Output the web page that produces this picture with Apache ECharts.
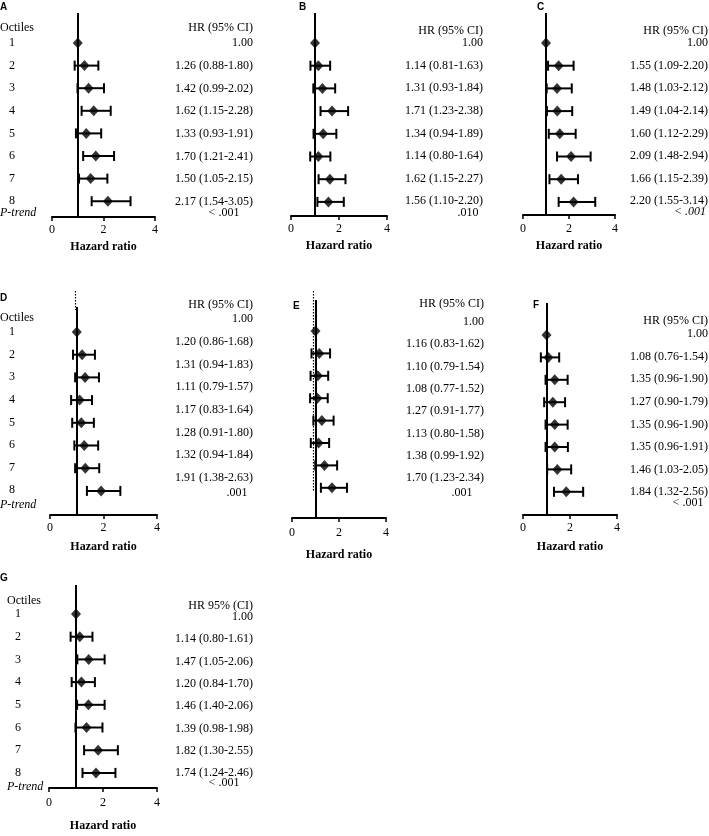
<!DOCTYPE html>
<html><head><meta charset="utf-8">
<script src="https://cdn.jsdelivr.net/npm/echarts@6/dist/echarts.min.js"></script>
<style>html,body{margin:0;padding:0;background:#fff}#c{width:709px;height:836px}</style>
</head><body><div id="c"></div>
<script>
// ---------- DATA ----------
const octiles = ['1','2','3','4','5','6','7','8'];
const xTicks = [0, 2, 4];

const hrA = [1.00,1.26,1.42,1.62,1.33,1.70,1.50,2.17];
const loA = [null,0.88,0.99,1.15,0.93,1.21,1.05,1.54];
const hiA = [null,1.80,2.02,2.28,1.91,2.41,2.15,3.05];
const txtA = ['1.00','1.26 (0.88-1.80)','1.42 (0.99-2.02)','1.62 (1.15-2.28)','1.33 (0.93-1.91)','1.70 (1.21-2.41)','1.50 (1.05-2.15)','2.17 (1.54-3.05)'];
const pA = '< .001';

const hrB = [1.00,1.14,1.31,1.71,1.34,1.14,1.62,1.56];
const loB = [null,0.81,0.93,1.23,0.94,0.80,1.15,1.10];
const hiB = [null,1.63,1.84,2.38,1.89,1.64,2.27,2.20];
const txtB = ['1.00','1.14 (0.81-1.63)','1.31 (0.93-1.84)','1.71 (1.23-2.38)','1.34 (0.94-1.89)','1.14 (0.80-1.64)','1.62 (1.15-2.27)','1.56 (1.10-2.20)'];
const pB = '.010';

const hrC = [1.00,1.55,1.48,1.49,1.60,2.09,1.66,2.20];
const loC = [null,1.09,1.03,1.04,1.12,1.48,1.15,1.55];
const hiC = [null,2.20,2.12,2.14,2.29,2.94,2.39,3.14];
const txtC = ['1.00','1.55 (1.09-2.20)','1.48 (1.03-2.12)','1.49 (1.04-2.14)','1.60 (1.12-2.29)','2.09 (1.48-2.94)','1.66 (1.15-2.39)','2.20 (1.55-3.14)'];
const pC = '< .001';

const hrD = [1.00,1.20,1.31,1.11,1.17,1.28,1.32,1.91];
const loD = [null,0.86,0.94,0.79,0.83,0.91,0.94,1.38];
const hiD = [null,1.68,1.83,1.57,1.64,1.80,1.84,2.63];
const txtD = ['1.00','1.20 (0.86-1.68)','1.31 (0.94-1.83)','1.11 (0.79-1.57)','1.17 (0.83-1.64)','1.28 (0.91-1.80)','1.32 (0.94-1.84)','1.91 (1.38-2.63)'];
const pD = '.001';

const hrE = [1.00,1.16,1.10,1.08,1.27,1.13,1.38,1.70];
const loE = [null,0.83,0.79,0.77,0.91,0.80,0.99,1.23];
const hiE = [null,1.62,1.54,1.52,1.77,1.58,1.92,2.34];
const txtE = ['1.00','1.16 (0.83-1.62)','1.10 (0.79-1.54)','1.08 (0.77-1.52)','1.27 (0.91-1.77)','1.13 (0.80-1.58)','1.38 (0.99-1.92)','1.70 (1.23-2.34)'];
const pE = '.001';

const hrF = [1.00,1.08,1.35,1.27,1.35,1.35,1.46,1.84];
const loF = [null,0.76,0.96,0.90,0.96,0.96,1.03,1.32];
const hiF = [null,1.54,1.90,1.79,1.90,1.91,2.05,2.56];
const txtF = ['1.00','1.08 (0.76-1.54)','1.35 (0.96-1.90)','1.27 (0.90-1.79)','1.35 (0.96-1.90)','1.35 (0.96-1.91)','1.46 (1.03-2.05)','1.84 (1.32-2.56)'];
const pF = '< .001';

const hrG = [1.00,1.14,1.47,1.20,1.46,1.39,1.82,1.74];
const loG = [null,0.80,1.05,0.84,1.04,0.98,1.30,1.24];
const hiG = [null,1.61,2.06,1.70,2.06,1.98,2.55,2.46];
const txtG = ['1.00','1.14 (0.80-1.61)','1.47 (1.05-2.06)','1.20 (0.84-1.70)','1.46 (1.40-2.06)','1.39 (0.98-1.98)','1.82 (1.30-2.55)','1.74 (1.24-2.46)'];
const pG = '< .001';

const refHR = 1;

const panels = [
  {id:'A', hr:hrA, lo:loA, hi:hiA, txt:txtA, p:pA, header:'HR (95% CI)'},
  {id:'B', hr:hrB, lo:loB, hi:hiB, txt:txtB, p:pB, header:'HR (95% CI)'},
  {id:'C', hr:hrC, lo:loC, hi:hiC, txt:txtC, p:pC, header:'HR (95% CI)'},
  {id:'D', hr:hrD, lo:loD, hi:hiD, txt:txtD, p:pD, header:'HR (95% CI)'},
  {id:'E', hr:hrE, lo:loE, hi:hiE, txt:txtE, p:pE, header:'HR (95% CI)'},
  {id:'F', hr:hrF, lo:loF, hi:hiF, txt:txtF, p:pF, header:'HR (95% CI)'},
  {id:'G', hr:hrG, lo:loG, hi:hiG, txt:txtG, p:pG, header:'HR 95% (CI)'}
];

// ---------- LAYOUT (pixels) ----------
const L = {
  A:{x0:52,x4:155,solidTop:13,axisY:217,row1:43,sp:22.6,letter:[0,7.5],tr:253,hY:28,t1:43,tsp:22.7,pX:224,pY:213,pIt:false,lm:7,ng:24,
     oct:{numX:12,labX:0,octY:28,row1:43,sp:22.6,pY:213}},
  B:{x0:291,x4:387,solidTop:13,axisY:216,row1:43,sp:22.7,letter:[299,7.5],tr:483,hY:31,t1:43,tsp:22.6,pX:468,pY:213,pIt:false,lm:7,ng:24},
  C:{x0:523,x4:615,solidTop:13,axisY:215,row1:43,sp:22.7,letter:[537,7.5],tr:708,hY:31,t1:43,tsp:22.6,pX:690,pY:212,pIt:true,lm:8,ng:25},
  D:{x0:50,x4:157,solidTop:307,dotTop:291,dotBot:310,dotX:0.96,axisY:515,row1:332,sp:22.7,letter:[0,298],tr:253,hY:305,t1:319,tsp:22.7,pX:237,pY:493,pIt:false,lm:7,ng:26,
     oct:{numX:12,labX:0,octY:318,row1:332,sp:22.6,pY:505}},
  E:{x0:292,x4:386,solidTop:300,dotTop:291,dotBot:492,dotX:0.89,axisY:518,row1:331,sp:22.4,letter:[293,306],tr:484,hY:304,t1:322,tsp:22.3,pX:462,pY:493,pIt:false,lm:9,ng:31},
  F:{x0:523,x4:617,solidTop:303,axisY:515,row1:335,sp:22.4,letter:[533,305],tr:708,hY:321,t1:334,tsp:22.6,pX:688,pY:503,pIt:false,lm:7,ng:26},
  G:{x0:49,x4:157,solidTop:585,axisY:788,row1:614,sp:22.7,letter:[0,578],tr:253,hY:606,t1:617,tsp:22.3,pX:224,pY:783,pIt:false,lm:9,ng:32,
     oct:{numX:18,labX:7,octY:601,row1:614,sp:22.7,pY:787}}
};

const SERIF = '"Liberation Serif", "Times New Roman", serif';
const f12 = '12px ' + SERIF;

const grids = [], xAxes = [], yAxes = [], series = [], graphics = [];

function txt(x, y, s, align, font) {
  graphics.push({type:'text', x:x, y:y, silent:true,
    style:{text:s, fill:'#000', font:font || f12, align:align || 'left', verticalAlign:'middle'}});
}

panels.forEach((P, k) => {
  const g = L[P.id];
  const top = Math.min(g.solidTop, g.dotTop == null ? g.solidTop : g.dotTop);
  grids.push({left:g.x0, top:top, width:g.x4 - g.x0, height:g.axisY - top, containLabel:false});
  const toVal = y => (y - g.row1) / g.sp;
  const yMin = toVal(top), yMax = toVal(g.axisY);
  xAxes.push({
    gridIndex:k, type:'value', min:xTicks[0], max:xTicks[xTicks.length-1], interval:xTicks[1]-xTicks[0],
    axisLine:{onZero:false, lineStyle:{color:'#000', width:2}},
    axisTick:{show:true, inside:false, length:4, lineStyle:{color:'#000', width:1.5}},
    splitLine:{show:false},
    axisLabel:{color:'#000', fontFamily:SERIF, fontSize:12, margin:g.lm},
    name:'Hazard ratio', nameLocation:'middle', nameGap:g.ng,
    nameTextStyle:{fontFamily:SERIF, fontWeight:'bold', fontSize:12, color:'#000'}
  });
  yAxes.push({gridIndex:k, type:'value', inverse:true, min:yMin, max:yMax, show:false});

  const mlData = [[{coord:[refHR, toVal(g.solidTop)], lineStyle:{type:'solid', width:2, color:'#000'}},
                   {coord:[refHR, yMax]}]];
  if (g.dotTop != null) {
    mlData.push([{coord:[g.dotX, toVal(g.dotTop)], lineStyle:{type:[1.5,1.5], width:1.2, color:'#000'}},
                 {coord:[g.dotX, toVal(g.dotBot)]}]);
  }

  // error bars
  const ebData = [];
  P.lo.forEach((lo, i) => { if (lo != null) ebData.push([lo, P.hi[i], i]); });
  series.push({
    type:'custom', xAxisIndex:k, yAxisIndex:k, clip:false, z:3, silent:true,
    data:ebData,
    renderItem:(params, api) => {
      const a = api.coord([api.value(0), api.value(2)]);
      const b = api.coord([api.value(1), api.value(2)]);
      const h = 5;
      const st = {stroke:'#000', lineWidth:2};
      return {type:'group', children:[
        {type:'line', shape:{x1:a[0], y1:a[1], x2:b[0], y2:b[1]}, style:st},
        {type:'line', shape:{x1:a[0], y1:a[1]-h, x2:a[0], y2:a[1]+h}, style:st},
        {type:'line', shape:{x1:b[0], y1:b[1]-h, x2:b[0], y2:b[1]+h}, style:st}
      ]};
    },
    markLine:{silent:true, symbol:['none','none'], label:{show:false}, data:mlData}
  });
  // diamonds
  series.push({
    type:'scatter', xAxisIndex:k, yAxisIndex:k, z:4, silent:true,
    symbol:'diamond', symbolSize:[10,11], itemStyle:{color:'#000'},
    data:P.hr.map((v, i) => [v, i])
  });

  // panel letter
  txt(g.letter[0], g.letter[1], P.id, 'left', 'bold 10px "Liberation Sans", Arial, sans-serif');
  // HR text column
  txt(g.tr, g.hY, P.header, 'right');
  P.txt.forEach((s, i) => txt(g.tr, g.t1 + i * g.tsp, s, 'right'));
  txt(g.pX, g.pY, P.p, 'center', (g.pIt ? 'italic ' : '') + f12);
  // octile labels
  if (g.oct) {
    const o = g.oct;
    txt(o.labX, o.octY, 'Octiles', 'left');
    octiles.forEach((s, i) => txt(o.numX, o.row1 + i * o.sp, s, 'center'));
    txt(o.labX, o.pY, 'P-trend', 'left', 'italic ' + f12);
  }
});

const chart = echarts.init(document.getElementById('c'), null, {renderer:'canvas'});
chart.setOption({
  animation:false,
  backgroundColor:'#fff',
  grid:grids, xAxis:xAxes, yAxis:yAxes, series:series, graphic:graphics
});
</script>
</body></html>
